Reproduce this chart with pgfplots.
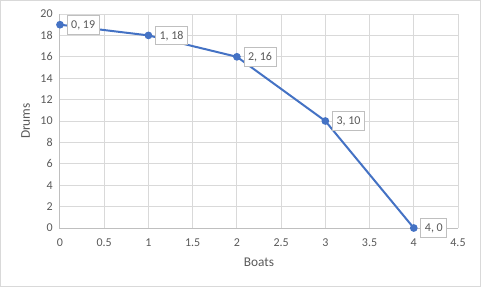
\documentclass[border=0pt]{standalone}
\usepackage{pgfplots}
\pgfplotsset{compat=1.18}
\usepackage{fontspec}
\setmainfont{Carlito}
\definecolor{exblue}{HTML}{4472C4}
\definecolor{grid}{HTML}{D9D9D9}
\definecolor{txt}{HTML}{595959}
\definecolor{axl}{HTML}{BFBFBF}
\begin{document}
\begin{tikzpicture}
\useasboundingbox (-45pt,-44.25pt) rectangle (315.75pt,171pt);
\draw[color=grid,line width=0.75pt] (-44.6pt,-43.9pt) rectangle (315.4pt,170.6pt);
\begin{axis}[
  at={(0,0)}, anchor=south west,
  scale only axis, width=298.5pt, height=160.5pt,
  xmin=0, xmax=4.5, ymin=0, ymax=20,
  xtick={0,0.5,...,4.5}, ytick={0,2,...,20},
  grid=major, major grid style={color=grid, line width=0.75pt},
  axis line style={draw=none},
  axis x line*=bottom, axis y line*=left,
  tick style={draw=none},
  ticklabel style={font=\fontsize{9}{10}\selectfont, text=txt},
  /pgf/number format/assume math mode=true,
  xticklabel style={yshift=-4.5pt},
  yticklabel style={xshift=-2pt},
  xlabel={Boats}, ylabel={Drums},
  label style={font=\fontsize{10}{12}\selectfont, text=txt},
  xlabel style={yshift=-2pt},
  ylabel style={yshift=1pt},
  clip=false,
]
\draw[color=axl, line width=0.75pt] (axis cs:0,20) -- (axis cs:0,0) -- (axis cs:4.5,0);
\addplot[color=exblue, line width=1.5pt, mark=*, mark size=2.1pt,
  visualization depends on={x \as \xv},
  nodes near coords={\pgfmathprintnumber{\xv}, \pgfmathprintnumber{\pgfplotspointmeta}},
  every node near coord/.append style={anchor=west, xshift=5pt, fill=white, draw=axl, line width=0.75pt,
     font=\fontsize{9}{10}\selectfont, text=txt, inner sep=3pt, text depth=0pt, minimum height=14pt}
] coordinates {
(0,19) (1,18) (2,16) (3,10) (4,0)
};
\end{axis}
\end{tikzpicture}
\end{document}
